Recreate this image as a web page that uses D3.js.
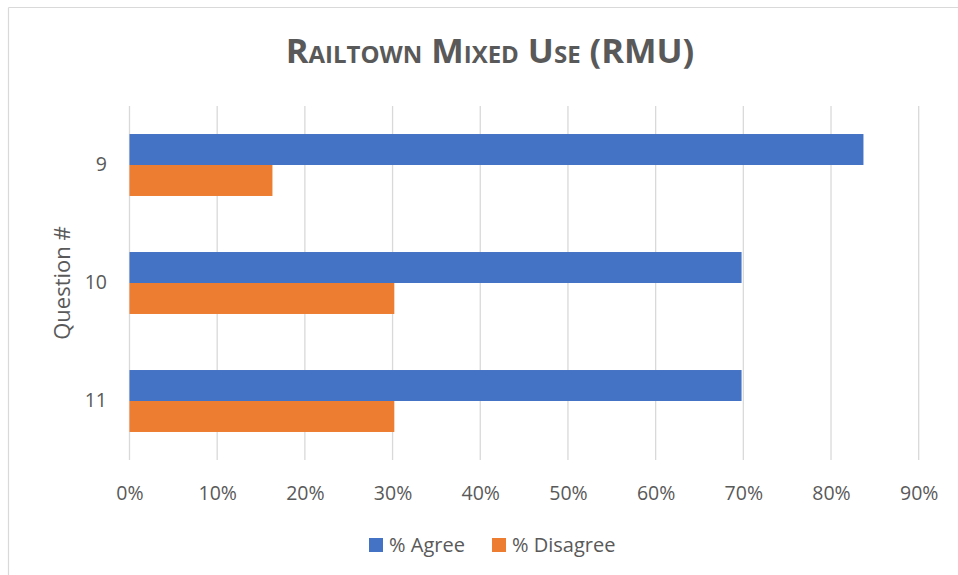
<!DOCTYPE html>
<html><head><meta charset="utf-8">
<script src="https://cdn.jsdelivr.net/npm/d3@7"></script>
<style>body{margin:0;background:#fff;}svg{display:block;}</style>
</head><body>
<script>
const questions = ["9", "10", "11"];
const seriesNames = ["% Agree", "% Disagree"];
const agree = [0.837, 0.698, 0.698];
const disagree = [0.163, 0.302, 0.302];
const xTicks = [0, 0.1, 0.2, 0.3, 0.4, 0.5, 0.6, 0.7, 0.8, 0.9];
const colors = ["#4472C4", "#ED7D31"];

const W = 958, H = 575;
const font = "'Open Sans', 'Noto Sans', sans-serif";
const grey = "#595959";
const svg = d3.select("body").append("svg").attr("width", W).attr("height", H);
svg.append("rect").attr("width", W).attr("height", H).attr("fill", "#fff");

// chart border (top & left visible)
svg.append("line").attr("x1", 8.5).attr("x2", W).attr("y1", 7.5).attr("y2", 7.5).attr("stroke", "#d9d9d9").attr("stroke-width", 1.2);
svg.append("line").attr("x1", 8.5).attr("x2", 8.5).attr("y1", 7.5).attr("y2", H).attr("stroke", "#d9d9d9").attr("stroke-width", 1.2);

const plot = {left: 129.5, right: 918.7, top: 106, bottom: 460};
const x = d3.scaleLinear().domain([0, 0.9]).range([plot.left, plot.right]);
const y = d3.scaleBand().domain(questions).range([plot.top, plot.bottom]).paddingInner(0.475).paddingOuter(0.2375);
const sub = d3.scaleBand().domain(seriesNames).range([0, y.bandwidth()]);

// gridlines
svg.append("g").selectAll("line").data(xTicks).join("line")
  .attr("x1", d => x(d)).attr("x2", d => x(d))
  .attr("y1", plot.top).attr("y2", plot.bottom)
  .attr("stroke", "#d9d9d9").attr("stroke-width", 1.3);

// bars
const series = [agree, disagree];
series.forEach((vals, si) => {
  svg.append("g").selectAll("rect").data(questions).join("rect")
    .attr("x", x(0))
    .attr("y", q => y(q) + sub(seriesNames[si]))
    .attr("width", (q, i) => x(vals[i]) - x(0))
    .attr("height", sub.bandwidth())
    .attr("fill", colors[si]);
});

// x axis labels
const xAxis = d3.axisBottom(x).tickValues(xTicks).tickFormat(d3.format(".0%")).tickSize(0).tickPadding(0);
const gx = svg.append("g").attr("transform", `translate(0,499.5)`).call(xAxis);
gx.select(".domain").remove();
gx.selectAll("text").attr("fill", grey).attr("font-size", 19.5).attr("font-family", font).attr("dy", 0).attr("y", 0);

// y axis labels
const yAxis = d3.axisLeft(y).tickSize(0).tickPadding(0);
const gy = svg.append("g").attr("transform", `translate(107,0)`).call(yAxis);
gy.select(".domain").remove();
gy.selectAll("text").attr("fill", grey).attr("font-size", 19.5).attr("font-family", font);

// y axis title
svg.append("text").attr("transform", `translate(70,${(plot.top + plot.bottom) / 2}) rotate(-90)`)
  .attr("text-anchor", "middle").attr("fill", grey).attr("font-size", 22).attr("font-family", font)
  .text("Question #");

// title
svg.append("text").attr("x", 490).attr("y", 63).attr("text-anchor", "middle")
  .attr("fill", grey).attr("font-size", 34.5).attr("font-weight", "bold").attr("font-family", font)
  .style("font-variant", "small-caps")
  .text("Railtown Mixed Use (RMU)");

// legend
const legX = [369, 492];
seriesNames.forEach((n, i) => {
  svg.append("rect").attr("x", legX[i]).attr("y", 538).attr("width", 14).attr("height", 14).attr("fill", colors[i]);
  svg.append("text").attr("x", legX[i] + 20).attr("y", 552).attr("fill", grey)
    .attr("font-size", 20).attr("font-family", font).text(n);
});
</script>
</body></html>
